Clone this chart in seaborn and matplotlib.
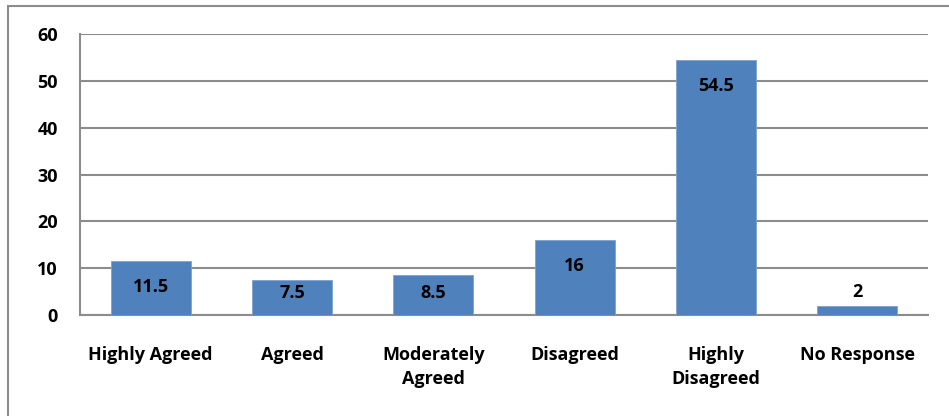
import matplotlib
matplotlib.use("Agg")
import matplotlib.pyplot as plt
from matplotlib.patches import Rectangle
import seaborn as sns
import pandas as pd

categories = ["Highly Agreed", "Agreed", "Moderately\nAgreed", "Disagreed",
              "Highly\nDisagreed", "No Response"]
values = [11.5, 7.5, 8.5, 16, 54.5, 2]
value_labels = ["11.5", "7.5", "8.5", "16", "54.5", "2"]
y_ticks = [0, 10, 20, 30, 40, 50, 60]

sns.set_theme(style="white")
plt.rcParams["font.family"] = ["Open Sans", "DejaVu Sans"]
plt.rcParams["font.weight"] = "bold"

FS = 13

df = pd.DataFrame({"category": categories, "value": values})

fig = plt.figure(figsize=(9.49, 4.16), dpi=100)
# Frame around the chart; its right and bottom edges run past the canvas
fig.patches.append(Rectangle((8 / 949, -0.1), 1, 1.1 - 6 / 416, transform=fig.transFigure,
                             fill=False, edgecolor="#8c8c8c", linewidth=1.5, zorder=0))
ax = fig.add_axes([80 / 949, 1 - 315 / 416, 848 / 949, 281 / 416])

sns.barplot(data=df, x="category", y="value", color="#4F81BD", saturation=1,
            width=0.566, edgecolor="#7ea3d1", linewidth=0.6, ax=ax, zorder=3)

ax.set_ylim(0, 60)
ax.set_yticks(y_ticks)
ax.set_xlim(-0.5, len(categories) - 0.5)
ax.yaxis.grid(True, color="#8c8c8c", linewidth=1.5, zorder=0)
ax.set_axisbelow(True)
ax.set_xlabel("")
ax.set_ylabel("")
for side in ["top", "right"]:
    ax.spines[side].set_visible(False)
for side in ["left", "bottom"]:
    ax.spines[side].set_color("#8c8c8c")
    ax.spines[side].set_linewidth(1.5)
ax.tick_params(axis="y", length=0, pad=16, labelsize=FS)
ax.tick_params(axis="x", length=0, pad=22, labelsize=FS)
for lab in ax.get_xticklabels() + ax.get_yticklabels():
    lab.set_fontweight("bold")
    lab.set_color("black")
for lab in ax.get_xticklabels():
    lab.set_linespacing(1.45)

for i, (v, txt) in enumerate(zip(values, value_labels)):
    if v > 5:
        ty = max(v - 5.5, 4.8)
    else:
        ty = v + 2.9
    ax.text(i, ty, txt, ha="center", va="center", fontsize=FS,
            fontweight="bold", color="black", zorder=4)

fig.savefig("out.png", dpi=100)
